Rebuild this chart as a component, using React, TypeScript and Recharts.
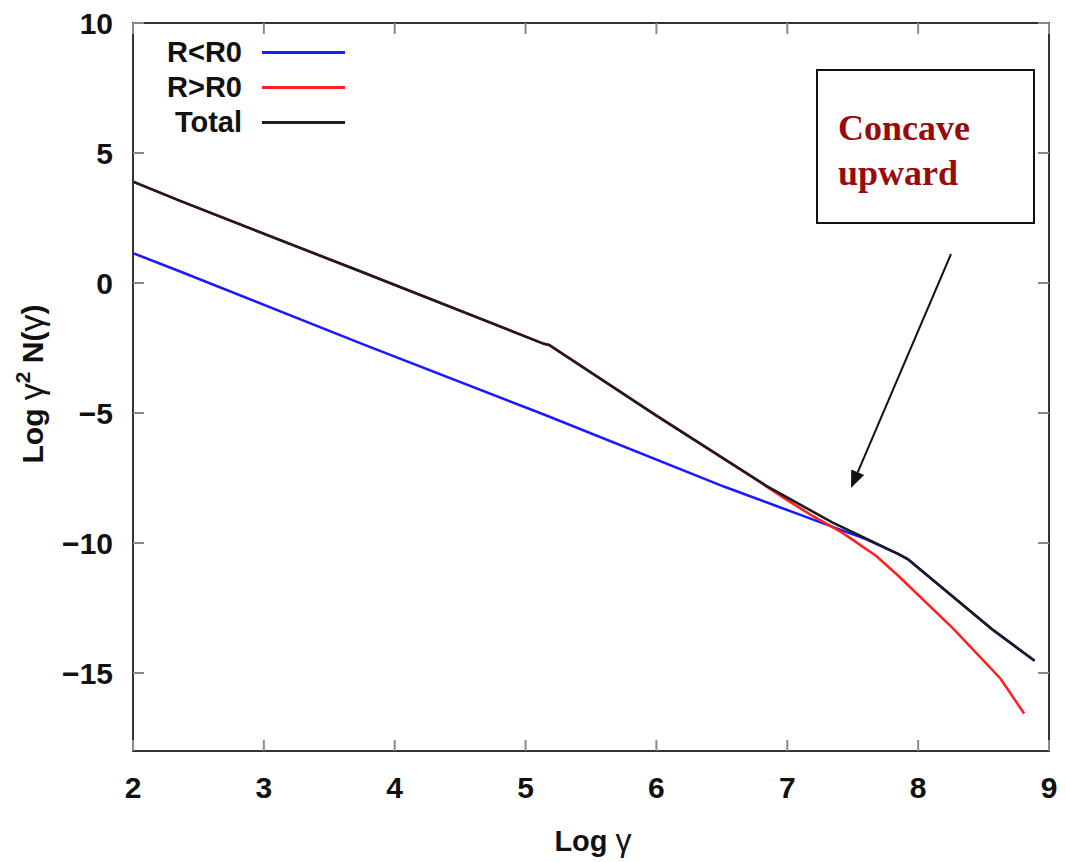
import { LineChart, Line, XAxis, YAxis, Legend, ReferenceArea } from 'recharts';

// log gamma sample points and log gamma^2 N(gamma) for each population
const innerX = [2, 2.37, 3.75, 5.14, 6.52, 7.09, 7.6, 7.85, 7.92, 8.57, 8.89];
const innerY = [1.15, 0.42, -2.34, -5.06, -7.84, -8.9, -9.85, -10.43, -10.62, -13.34, -14.53];

const outerX = [2, 2.37, 3.75, 5.14, 5.18, 6.0, 6.84, 7.0, 7.2, 7.42, 7.68, 7.85, 8.27, 8.63, 8.81];
const outerY = [3.9, 3.14, 0.42, -2.34, -2.38, -5.1, -7.82, -8.35, -8.98, -9.6, -10.5, -11.27, -13.3, -15.22, -16.56];

const totalX = [2, 2.37, 3.75, 5.14, 5.18, 6.0, 6.84, 7.34, 7.85, 7.92, 8.56, 8.89];
const totalY = [3.9, 3.14, 0.42, -2.34, -2.38, -5.1, -7.8, -9.2, -10.43, -10.62, -13.3, -14.53];

const xTicks = [2, 3, 4, 5, 6, 7, 8, 9];
const yTicks = [-15, -10, -5, 0, 5, 10];

const series = [
  { name: 'R<R0', color: '#1a1aff', xs: innerX, ys: innerY },
  { name: 'R>R0', color: '#ff2020', xs: outerX, ys: outerY },
  { name: 'Total', color: '#1c1c1c', xs: totalX, ys: totalY },
];

const toRows = (xs: number[], ys: number[]) => xs.map((x, i) => ({ x, y: ys[i] }));

const W = 1066;
const H = 862;
const TOP = 23;
const LEFT = 133;
const RIGHT = 1049;
const BOTTOM = 751;
const FONT = '"Liberation Sans", Arial, sans-serif';

const XTick = (props: any) => {
  const { x, y, payload } = props;
  return (
    <g>
      <line x1={x} y1={y} x2={x} y2={y - 11} stroke="#8a8a8a" strokeWidth={2} />
      <line x1={x} y1={TOP} x2={x} y2={TOP + 11} stroke="#8a8a8a" strokeWidth={2} />
      <text x={x} y={y + 47} textAnchor="middle" fontFamily={FONT} fontWeight="bold" fontSize={30} fill="#111">
        {payload.value}
      </text>
    </g>
  );
};

const YTick = (props: any) => {
  const { x, y, payload } = props;
  const v = payload.value as number;
  const label = v < 0 ? `\u2212${Math.abs(v)}` : `${v}`;
  return (
    <g>
      <line x1={x} y1={y} x2={x + 11} y2={y} stroke="#8a8a8a" strokeWidth={2} />
      <line x1={RIGHT} y1={y} x2={RIGHT - 11} y2={y} stroke="#8a8a8a" strokeWidth={2} />
      <text x={x - 20} y={y + 11} textAnchor="end" fontFamily={FONT} fontWeight="bold" fontSize={30} fill="#111">
        {label}
      </text>
    </g>
  );
};

const KeyBox = () => (
  <div style={{ position: 'relative', width: 200, height: 110 }}>
    {series.map((s, i) => (
      <div
        key={s.name}
        style={{ position: 'absolute', left: 0, top: i * 35, height: 35, display: 'flex', alignItems: 'center' }}
      >
        <span
          style={{
            width: 92,
            textAlign: 'right',
            fontFamily: FONT,
            fontWeight: 'bold',
            fontSize: 29,
            color: '#111',
            lineHeight: '35px',
          }}
        >
          {s.name}
        </span>
        <span style={{ marginLeft: 20, width: 83, height: 3, background: s.color, display: 'inline-block' }} />
      </div>
    ))}
  </div>
);

// annotation arrow from the note box down to the bend
const arrowFrom = { x: 951, y: 254 };
const arrowTip = { x: 851, y: 488 };
const head = (() => {
  const dx = arrowTip.x - arrowFrom.x;
  const dy = arrowTip.y - arrowFrom.y;
  const len = Math.hypot(dx, dy);
  const ux = dx / len;
  const uy = dy / len;
  const bx = arrowTip.x - ux * 17;
  const by = arrowTip.y - uy * 17;
  const px = -uy * 7;
  const py = ux * 7;
  return { bx, by, pts: `${arrowTip.x},${arrowTip.y} ${bx + px},${by + py} ${bx - px},${by - py}` };
})();

export default function App() {
  return (
    <div style={{ position: 'absolute', left: 0, top: 0, width: W, height: H, background: '#fff' }}>
      <LineChart width={W} height={H} margin={{ top: TOP, right: W - RIGHT, bottom: 0, left: 0 }}>
        <XAxis
          type="number"
          dataKey="x"
          domain={[2, 9]}
          ticks={xTicks}
          allowDataOverflow
          height={H - BOTTOM}
          tickSize={0}
          tickMargin={0}
          tickLine={false}
          axisLine={{ stroke: '#333', strokeWidth: 2 }}
          tick={<XTick />}
          interval={0}
        />
        <YAxis
          type="number"
          dataKey="y"
          domain={[-18, 10]}
          ticks={yTicks}
          allowDataOverflow
          width={LEFT}
          tickSize={0}
          tickMargin={0}
          tickLine={false}
          axisLine={{ stroke: '#333', strokeWidth: 2 }}
          tick={<YTick />}
          interval={0}
        />
        <ReferenceArea x1={2} x2={9} y1={-18} y2={10} fill="none" stroke="#333" strokeWidth={2} ifOverflow="visible" />
        {series.map((s) => (
          <Line
            key={s.name}
            data={toRows(s.xs, s.ys)}
            dataKey="y"
            name={s.name}
            type="linear"
            stroke={s.color}
            strokeWidth={2.6}
            dot={false}
            activeDot={false}
            isAnimationActive={false}
          />
        ))}
        <Legend
          layout="vertical"
          align="center"
          verticalAlign="middle"
          content={<KeyBox />}
          wrapperStyle={{ left: 150, top: 35, width: 200, height: 110 }}
        />
      </LineChart>
      <svg
        width={W}
        height={H}
        style={{ position: 'absolute', left: 0, top: 0, pointerEvents: 'none' }}
      >
        <text
          transform="rotate(-90, 43, 384)"
          x={43}
          y={384}
          textAnchor="middle"
          fontFamily={FONT}
          fontWeight="bold"
          fontSize={30}
          fill="#111"
        >
          Log <tspan fontWeight="normal" fontSize={34}>γ</tspan>
          <tspan fontSize={21} dy={-13}>2</tspan>
          <tspan dy={13}>  N(</tspan>
          <tspan fontWeight="normal" fontSize={34}>γ</tspan>)
        </text>
        <text x={593} y={851} textAnchor="middle" fontFamily={FONT} fontWeight="bold" fontSize={29} fill="#111">
          Log <tspan fontWeight="normal" fontSize={32}>γ</tspan>
        </text>
        <rect x={817} y={70} width={217} height={153} fill="#fff" stroke="#111" strokeWidth={2} />
        <text x={838} y={140} fontFamily='"Liberation Serif", "Times New Roman", serif' fontWeight="bold" fontSize={36} fill="#990a0a">
          Concave
        </text>
        <text x={838} y={185} fontFamily='"Liberation Serif", "Times New Roman", serif' fontWeight="bold" fontSize={36} fill="#990a0a">
          upward
        </text>
        <line x1={arrowFrom.x} y1={arrowFrom.y} x2={head.bx} y2={head.by} stroke="#111" strokeWidth={2} />
        <polygon points={head.pts} fill="#111" />
      </svg>
    </div>
  );
}
